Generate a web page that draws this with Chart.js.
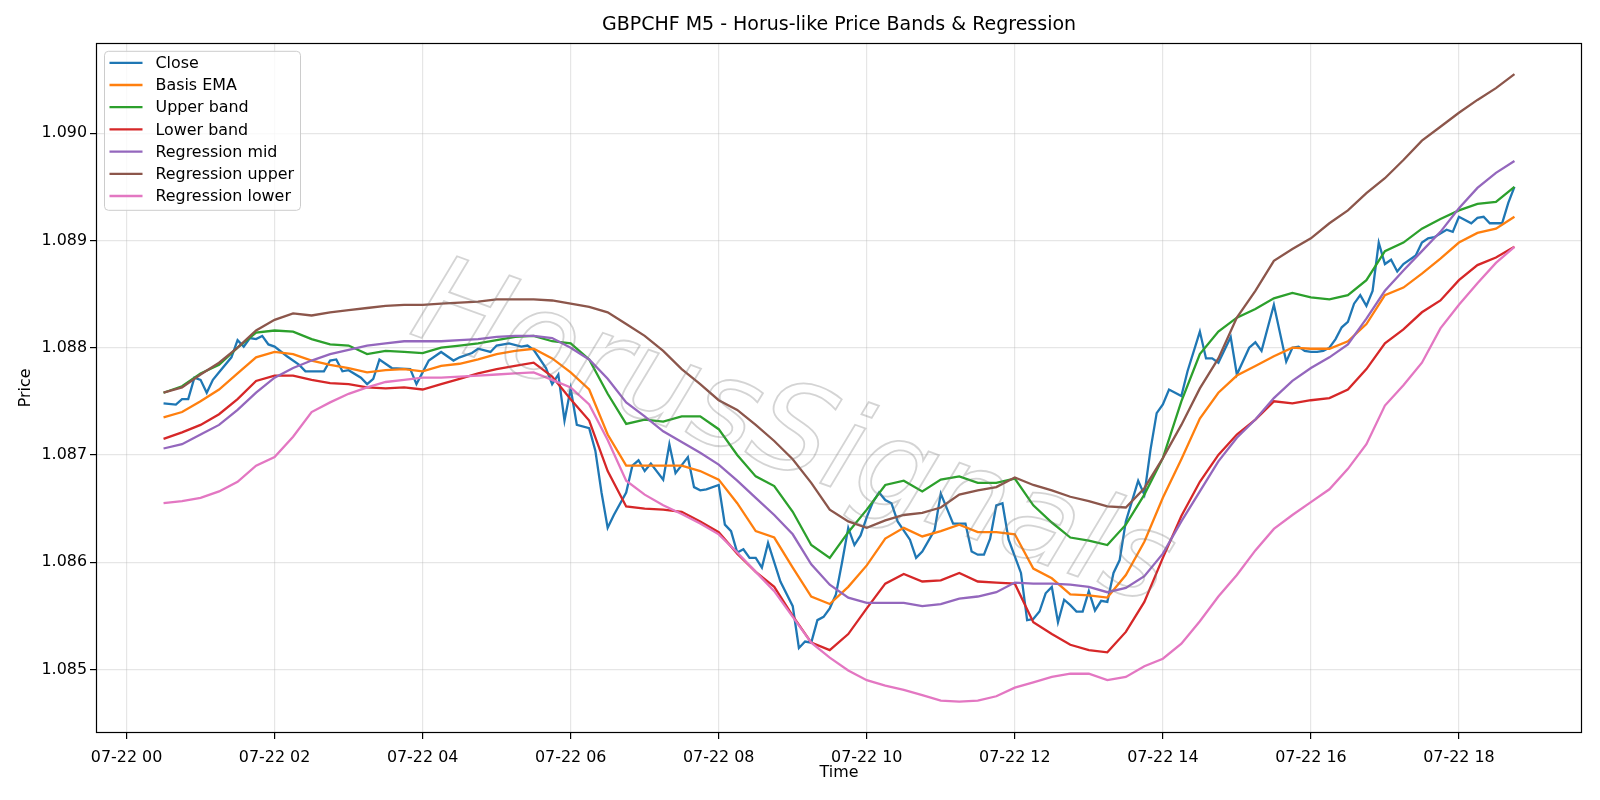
<!DOCTYPE html>
<html>
<head>
<meta charset="utf-8">
<title>GBPCHF M5</title>
<script src="https://cdn.jsdelivr.net/npm/chart.js@4.4.1/dist/chart.umd.min.js"></script>
<style>
  body { margin: 0; background: #fff; }
  #wrap { width: 1600px; height: 800px; }
</style>
</head>
<body>
<div id="wrap"><canvas id="priceChart" width="1600" height="800"></canvas></div>
<script>
// time is minutes after 07-22 00:00, bands read every 15 min
var bandTimes = [30,45,60,75,90,105,120,135,150,165,180,195,210,225,240,255,270,285,300,315,330,345,360,375,
  390,405,420,435,450,465,480,495,510,525,540,555,570,585,600,615,630,645,660,675,690,705,720,735,
  750,765,780,795,810,825,840,855,870,885,900,915,930,945,960,975,990,1005,1020,1035,1050,1065,1080,1095,1110,1125];

var basisEma = [1.08735,1.08740,1.08750,1.08761,1.08776,1.08791,1.08796,1.08794,1.08788,1.08784,1.08781,1.08777,
  1.08779,1.08780,1.08778,1.08783,1.08785,1.08789,1.08794,1.08797,1.08799,1.08790,1.08777,1.08761,
  1.08719,1.08690,1.08690,1.08690,1.08690,1.08685,1.08677,1.08655,1.08629,1.08623,1.08595,1.08568,
  1.08561,1.08577,1.08597,1.08622,1.08632,1.08624,1.08629,1.08635,1.08628,1.08628,1.08626,1.08594,
  1.08585,1.08570,1.08569,1.08567,1.08588,1.08619,1.08660,1.08696,1.08734,1.08758,1.08774,1.08783,
  1.08792,1.08800,1.08799,1.08799,1.08806,1.08822,1.08849,1.08856,1.08869,1.08883,1.08898,1.08907,
  1.08911,1.08922];

var upperBand = [1.08758,1.08764,1.08776,1.08784,1.08800,1.08814,1.08816,1.08815,1.08808,1.08803,1.08802,1.08794,
  1.08797,1.08796,1.08795,1.08800,1.08802,1.08804,1.08807,1.08810,1.08811,1.08806,1.08804,1.08789,
  1.08757,1.08729,1.08733,1.08731,1.08736,1.08736,1.08724,1.08700,1.08680,1.08671,1.08647,1.08616,
  1.08604,1.08628,1.08649,1.08672,1.08676,1.08666,1.08677,1.08680,1.08674,1.08674,1.08678,1.08653,
  1.08637,1.08623,1.08620,1.08616,1.08635,1.08663,1.08697,1.08750,1.08794,1.08815,1.08828,1.08836,
  1.08846,1.08851,1.08847,1.08845,1.08849,1.08863,1.08890,1.08898,1.08911,1.08920,1.08928,1.08934,
  1.08936,1.08950];

var lowerBand = [1.08715,1.08721,1.08728,1.08738,1.08752,1.08769,1.08774,1.08774,1.08770,1.08767,1.08766,1.08763,
  1.08762,1.08763,1.08761,1.08766,1.08771,1.08776,1.08780,1.08783,1.08786,1.08773,1.08752,1.08732,
  1.08685,1.08652,1.08650,1.08649,1.08647,1.08638,1.08628,1.08608,1.08591,1.08577,1.08550,1.08525,
  1.08518,1.08533,1.08557,1.08580,1.08589,1.08582,1.08583,1.08590,1.08582,1.08581,1.08580,1.08544,
  1.08533,1.08523,1.08518,1.08516,1.08535,1.08563,1.08604,1.08643,1.08675,1.08700,1.08719,1.08733,
  1.08750,1.08748,1.08751,1.08753,1.08761,1.08780,1.08804,1.08817,1.08833,1.08844,1.08863,1.08877,
  1.08884,1.08894];

var regMid = [1.08706,1.08710,1.08719,1.08728,1.08742,1.08758,1.08772,1.08781,1.08788,1.08794,1.08798,1.08802,
  1.08804,1.08806,1.08806,1.08806,1.08807,1.08808,1.08810,1.08811,1.08811,1.08809,1.08800,1.08789,
  1.08771,1.08749,1.08736,1.08722,1.08712,1.08702,1.08691,1.08676,1.08660,1.08644,1.08626,1.08598,
  1.08579,1.08567,1.08562,1.08562,1.08562,1.08559,1.08561,1.08566,1.08568,1.08572,1.08581,1.08580,
  1.08580,1.08579,1.08577,1.08572,1.08576,1.08587,1.08608,1.08638,1.08666,1.08694,1.08716,1.08733,
  1.08753,1.08769,1.08781,1.08791,1.08803,1.08827,1.08853,1.08872,1.08890,1.08908,1.08930,1.08949,
  1.08963,1.08974];

var regUpper = [1.08758,1.08763,1.08775,1.08786,1.08800,1.08816,1.08826,1.08832,1.08830,1.08833,1.08835,1.08837,
  1.08839,1.08840,1.08840,1.08841,1.08842,1.08843,1.08845,1.08845,1.08845,1.08844,1.08841,1.08838,
  1.08833,1.08822,1.08811,1.08797,1.08780,1.08766,1.08751,1.08742,1.08728,1.08713,1.08696,1.08674,
  1.08649,1.08638,1.08632,1.08639,1.08644,1.08646,1.08651,1.08663,1.08667,1.08670,1.08679,1.08672,
  1.08667,1.08661,1.08657,1.08652,1.08651,1.08669,1.08697,1.08728,1.08762,1.08790,1.08828,1.08853,
  1.08881,1.08892,1.08902,1.08916,1.08928,1.08944,1.08958,1.08975,1.08993,1.09006,1.09019,1.09031,
  1.09042,1.09055];

var regLower = [1.08655,1.08657,1.08660,1.08666,1.08675,1.08690,1.08698,1.08717,1.08740,1.08749,1.08757,1.08763,
  1.08768,1.08770,1.08772,1.08772,1.08773,1.08774,1.08775,1.08776,1.08777,1.08770,1.08763,1.08747,
  1.08714,1.08676,1.08663,1.08653,1.08645,1.08636,1.08626,1.08609,1.08591,1.08573,1.08549,1.08525,
  1.08511,1.08499,1.08490,1.08485,1.08481,1.08476,1.08471,1.08470,1.08471,1.08475,1.08483,1.08488,
  1.08493,1.08496,1.08496,1.08490,1.08493,1.08503,1.08510,1.08524,1.08545,1.08568,1.08588,1.08611,
  1.08631,1.08644,1.08656,1.08668,1.08687,1.08710,1.08746,1.08765,1.08786,1.08818,1.08840,1.08860,
  1.08879,1.08894];

// close is read at its turning points (5 min bars)
var closeTimes = [30,40,45,50,55,60,65,70,75,85,90,95,100,105,110,115,120,130,140,145,155,160,165,170,175,180,
  190,195,200,205,215,230,235,240,245,255,265,270,280,285,295,300,310,320,325,330,340,345,350,355,360,365,
  375,380,385,390,395,405,410,415,420,425,435,440,445,455,460,465,470,480,485,490,495,500,505,510,515,520,
  530,540,545,550,555,560,565,570,575,580,585,590,595,600,605,610,615,620,625,635,640,645,655,660,665,670,
  680,685,690,695,700,705,710,715,725,730,735,740,745,750,755,760,765,770,775,780,785,790,795,800,805,810,
  815,820,825,830,835,840,845,855,860,870,875,880,885,895,900,910,915,920,930,940,945,950,955,960,965,970,
  975,980,985,990,995,1000,1005,1010,1015,1020,1025,1030,1035,1045,1050,1055,1060,1070,1075,1080,1090,1095,
  1100,1105,1115,1120,1125];

var closeValues = [1.08748,1.08747,1.08752,1.08752,1.08772,1.08770,1.08758,1.08770,1.08777,1.08791,1.08807,1.08801,
  1.08809,1.08808,1.08811,1.08803,1.08801,1.08792,1.08784,1.08778,1.08778,1.08778,1.08788,1.08789,1.08778,1.08779,
  1.08772,1.08766,1.08771,1.08789,1.08781,1.08780,1.08766,1.08777,1.08788,1.08796,1.08788,1.08791,1.08795,1.08799,
  1.08796,1.08802,1.08804,1.08801,1.08802,1.08798,1.08781,1.08766,1.08775,1.08732,1.08762,1.08728,
  1.08725,1.08704,1.08665,1.08632,1.08644,1.08665,1.08690,1.08695,1.08685,1.08692,1.08677,1.08710,1.08683,1.08698,
  1.08670,1.08667,1.08668,1.08672,1.08635,1.08629,1.08609,1.08612,1.08604,1.08604,1.08595,1.08618,
  1.08582,1.08559,1.08520,1.08526,1.08525,1.08546,1.08549,1.08557,1.08570,1.08600,1.08632,1.08616,1.08625,1.08642,
  1.08656,1.08665,1.08658,1.08655,1.08638,1.08621,1.08604,1.08610,1.08630,1.08664,1.08650,1.08636,
  1.08636,1.08610,1.08607,1.08607,1.08622,1.08653,1.08655,1.08621,1.08590,1.08546,1.08547,1.08554,1.08571,1.08577,
  1.08544,1.08565,1.08560,1.08554,1.08554,1.08573,1.08555,1.08564,1.08563,1.08590,1.08602,1.08638,
  1.08657,1.08676,1.08663,1.08705,1.08739,1.08747,1.08761,1.08755,1.08778,1.08815,1.08790,1.08790,1.08786,1.08810,
  1.08775,1.08800,1.08805,1.08797,1.08840,1.08787,1.08800,1.08801,1.08797,1.08796,1.08796,1.08797,
  1.08800,1.08808,1.08819,1.08824,1.08841,1.08849,1.08839,1.08853,1.08898,1.08878,1.08882,1.08871,1.08878,1.08886,
  1.08898,1.08902,1.08903,1.08910,1.08908,1.08922,1.08916,1.08921,1.08922,1.08916,1.08916,1.08935,1.08950];

var xTickMinutes = [0,120,240,360,480,600,720,840,960,1080];
var yTicks = [1.085,1.086,1.087,1.088,1.089,1.090];

var seriesNames = ['Close','Basis EMA','Upper band','Lower band','Regression mid','Regression upper','Regression lower'];
var seriesColors = ['#1f77b4','#ff7f0e','#2ca02c','#d62728','#9467bd','#8c564b','#e377c2'];

function toPoints(xs, ys){
  return xs.map(function(x, i){ return {x: x, y: ys[i]}; });
}

// matplotlib style 5% margins round the data
var allY = closeValues.concat(basisEma, upperBand, lowerBand, regMid, regUpper, regLower);
var yLo = Math.min.apply(null, allY), yHi = Math.max.apply(null, allY);
var xLo = Math.min(closeTimes[0], bandTimes[0]);
var xHi = Math.max(closeTimes[closeTimes.length-1], bandTimes[bandTimes.length-1]);
var yPad = (yHi - yLo) * 0.05, xPad = (xHi - xLo) * 0.05;

var seriesData = [
  toPoints(closeTimes, closeValues),
  toPoints(bandTimes, basisEma),
  toPoints(bandTimes, upperBand),
  toPoints(bandTimes, lowerBand),
  toPoints(bandTimes, regMid),
  toPoints(bandTimes, regUpper),
  toPoints(bandTimes, regLower)
];

var datasets = seriesData.map(function(d, i){
  return {
    label: seriesNames[i],
    data: d,
    borderColor: seriesColors[i],
    backgroundColor: seriesColors[i],
    borderWidth: 2.3,
    pointRadius: 0,
    tension: 0,
    fill: false,
    order: seriesData.length - i
  };
});

var FONT = '"DejaVu Sans", sans-serif';
var SMALL = 15.9;
var gridColor = 'rgba(176,176,176,0.32)';

var frameAndLegend = {
  id: 'frameAndLegend',
  afterDatasetsDraw: function(chart){
    var ctx = chart.ctx;
    // watermark
    ctx.save();
    ctx.translate(792, 439);
    ctx.rotate(20 * Math.PI / 180);
    ctx.font = 'italic 122px ' + FONT;
    ctx.textAlign = 'center';
    ctx.textBaseline = 'middle';
    ctx.strokeStyle = 'rgba(120,120,120,0.32)';
    ctx.lineWidth = 1.8;
    ctx.strokeText('HorusSignals', 0, 0);
    ctx.restore();
  },
  afterDraw: function(chart){
    var ctx = chart.ctx, a = chart.chartArea;
    ctx.save();
    ctx.strokeStyle = '#000';
    ctx.lineWidth = 1.2;
    ctx.strokeRect(Math.round(a.left) + 0.5, Math.round(a.top) + 0.5,
      Math.round(a.right - a.left) - 1, Math.round(a.bottom - a.top) - 1);

    // legend box, upper left
    var bx = a.left + 8.5, by = a.top + 8.5, bw = 196, bh = 159, r = 4;
    ctx.beginPath();
    ctx.moveTo(bx + r, by);
    ctx.arcTo(bx + bw, by, bx + bw, by + bh, r);
    ctx.arcTo(bx + bw, by + bh, bx, by + bh, r);
    ctx.arcTo(bx, by + bh, bx, by, r);
    ctx.arcTo(bx, by, bx + bw, by, r);
    ctx.closePath();
    ctx.fillStyle = 'rgba(255,255,255,0.8)';
    ctx.fill();
    ctx.strokeStyle = '#cccccc';
    ctx.lineWidth = 1;
    ctx.stroke();

    ctx.font = SMALL + 'px ' + FONT;
    ctx.textBaseline = 'middle';
    ctx.textAlign = 'left';
    chart.data.datasets.forEach(function(ds, i){
      var y = by + 11.5 + i * 22.2;
      ctx.beginPath();
      ctx.moveTo(bx + 5, y);
      ctx.lineTo(bx + 38, y);
      ctx.strokeStyle = ds.borderColor;
      ctx.lineWidth = 2.3;
      ctx.stroke();
      ctx.fillStyle = '#000';
      ctx.fillText(ds.label, bx + 51, y + 1);
    });
    ctx.restore();
  }
};

var priceChart = new Chart(document.getElementById('priceChart'), {
  type: 'line',
  data: { datasets: datasets },
  plugins: [frameAndLegend],
  options: {
    responsive: false,
    devicePixelRatio: 1,
    animation: false,
    layout: { padding: { left: 0, right: 18, top: 0, bottom: 0 } },
    plugins: {
      legend: { display: false },
      tooltip: { enabled: false },
      title: {
        display: true,
        fullSize: false,
        text: 'GBPCHF M5 - Horus-like Price Bands & Regression',
        color: '#000',
        font: { family: FONT, size: 19, weight: 'normal' },
        padding: { top: 14, bottom: 6 }
      }
    },
    scales: {
      x: {
        type: 'linear',
        min: xLo - xPad,
        max: xHi + xPad,
        afterBuildTicks: function(scale){
          scale.ticks = xTickMinutes.map(function(v){ return {value: v}; });
        },
        afterFit: function(scale){ scale.height = 67; },
        border: { display: false },
        grid: { color: gridColor, lineWidth: 1.2, drawTicks: true, tickLength: 6, tickColor: '#000', tickWidth: 1.2 },
        ticks: {
          color: '#000',
          font: { family: FONT, size: SMALL },
          padding: 9,
          maxRotation: 0,
          autoSkip: false,
          callback: function(v){
            var h = Math.round(v / 60);
            return '07-22 ' + (h < 10 ? '0' + h : h);
          }
        },
        title: { display: true, text: 'Time', color: '#000', font: { family: FONT, size: SMALL }, padding: { top: 0, bottom: 18 } }
      },
      y: {
        type: 'linear',
        min: yLo - yPad,
        max: yHi + yPad,
        afterBuildTicks: function(scale){
          scale.ticks = yTicks.map(function(v){ return {value: v}; });
        },
        afterFit: function(scale){ scale.width = 96; },
        border: { display: false },
        grid: { color: gridColor, lineWidth: 1.2, drawTicks: true, tickLength: 6, tickColor: '#000', tickWidth: 1.2 },
        ticks: {
          color: '#000',
          font: { family: FONT, size: SMALL },
          padding: 3,
          callback: function(v){ return v.toFixed(3); }
        },
        title: { display: true, text: 'Price', color: '#000', font: { family: FONT, size: SMALL }, padding: { top: 16, bottom: 0 } }
      }
    }
  }
});
</script>
</body>
</html>
